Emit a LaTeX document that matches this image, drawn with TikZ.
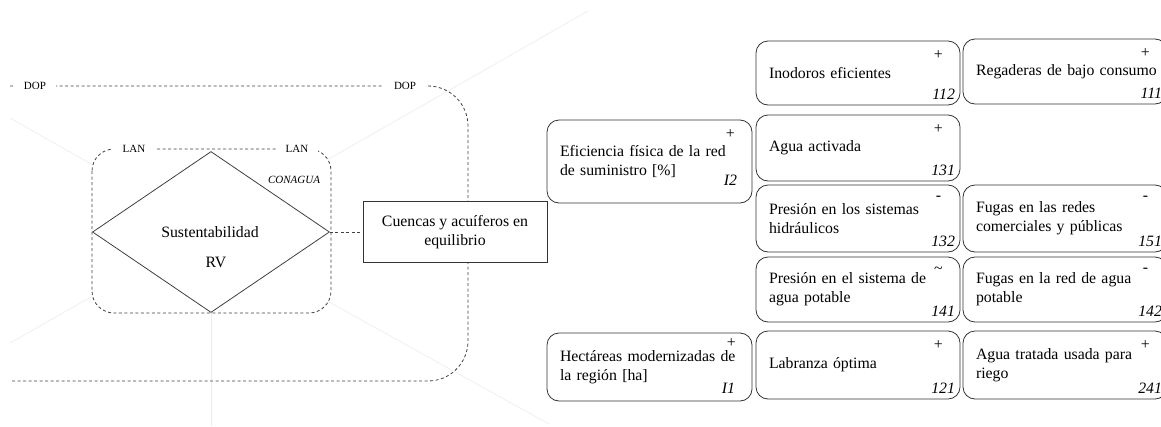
\documentclass[tikz,border=0pt]{standalone}
\usepackage{fontspec}
\setmainfont{Liberation Serif}
\usepackage{tikz}
\usetikzlibrary{shapes.geometric,positioning,calc}

\newcommand{\txtbig}{\fontsize{15.8}{19}\selectfont}
\newcommand{\txtsmall}{\fontsize{11}{13}\selectfont}
\newcommand{\boxmarks}[3]{%
  \node[sgn] (#1s) at ($(#1.north east)+(-22,14)$) {#2};
  \node[code] (#1c) at ($(#1.south east)+(-5,-11)$) {#3};}

\begin{document}
\begin{tikzpicture}[x=1pt, y=-1pt, line width=0.8pt,
   ind/.style={draw=black!80, fill=white, rounded corners=12pt, minimum width=204pt,
     text width=178pt, inner xsep=13pt, inner ysep=0pt, align=left, font=\txtbig},
   sgn/.style={font=\txtbig, inner sep=0pt},
   code/.style={font=\txtbig\itshape, inner sep=0pt, anchor=east},
   tag/.style={font=\txtsmall, fill=white, inner xsep=10pt, inner ysep=1pt},
   dashln/.style={draw=black!75, dash pattern=on 3pt off 2.5pt},
   ray/.style={draw=black!8, line width=0.6pt}]

  \useasboundingbox (0,0) rectangle (1161,426);
  \clip (0,0) rectangle (1161,426);

  % faint axes
  \draw[ray] (10,118) -- (93,165);
  \draw[ray] (327,160) -- (588,11);
  \draw[ray] (10,343) -- (91,297);
  \draw[ray] (329,302) -- (549,424);
  \draw[ray] (211,313) -- (211,426);

  % DOP frame
  \draw[dashln, rounded corners=40pt] (10,86) -- (468,86) -- (468,381) -- (10,381);
  \node[tag] (dop1) at (35,86) {DOP};
  \node[tag] (dop2) at (405,86) {DOP};

  % LAN frame
  \draw[dashln, fill=white, rounded corners=22pt] (92,149) rectangle (331,313);
  \node[tag] (lan1) at (134,149) {LAN};
  \node[tag] (lan2) at (297,149) {LAN};
  \node[font=\txtsmall\itshape] (cna) at (294,180) {CONAGUA};

  \node[draw=black!75, diamond, minimum width=237pt, minimum height=161pt, inner sep=0pt] (rv) at (211,232) {};
  \node[font=\txtbig] (sust) at (210,232) {Sustentabilidad};
  \node[font=\txtbig] (rvtxt) at (216,262) {RV};

  \node[draw=black!80, fill=white, minimum width=184pt, minimum height=61pt,
    align=center, font=\txtbig] (cue) at (455,232) {Cuencas y acuíferos en\\equilibrio};
  \draw[dashln] (rv.east) -- (cue.west);

  % indicators
  \node[ind, minimum width=205pt, text width=179pt, minimum height=83pt] (i2) at (649.5,161.5) {Eficiencia física de la red\\de suministro [\%]};
  \node[sgn] (i2s) at ($(i2.north east)+(-22,14)$) {+};
  \node[code] (i2c) at ($(i2.south east)+(-15,-23)$) {I2};
  \node[ind, minimum width=205pt, text width=179pt, minimum height=68pt] (i1) at (649.5,367) {\mbox{Hectáreas modernizadas de}\\la región [ha]};
  \node[sgn] (i1s) at ($(i1.north east)+(-21,10)$) {+};
  \node[code] (i1c) at ($(i1.south east)+(-17,-13)$) {I1};

  % middle column
  \node[ind, minimum height=64pt] (n112) at (858,73) {Inodoros eficientes};
  \boxmarks{n112}{+}{112}
  \node[ind, minimum height=66pt] (n131) at (858,148) {Agua activada};
  \boxmarks{n131}{+}{131}
  \node[ind, minimum height=67pt] (n132) at (858,218.5) {Presión en los sistemas\\hidráulicos};
  \boxmarks{n132}{-}{132}
  \node[ind, minimum height=65pt] (n141) at (858,289.5) {Presión en el sistema de\\agua potable};
  \boxmarks{n141}{\textasciitilde}{141}
  \node[ind, minimum height=68pt] (n121) at (858,365) {Labranza óptima};
  \boxmarks{n121}{+}{121}

  % right column
  \node[ind, minimum height=65pt] (n111) at (1065,71.5) {\mbox{Regaderas de bajo consumo}};
  \boxmarks{n111}{+}{111}
  \node[ind, minimum height=67pt] (n151) at (1065,218.5) {Fugas en las redes\\comerciales y públicas};
  \boxmarks{n151}{-}{151}
  \node[ind, minimum height=65pt] (n142) at (1065,289.5) {Fugas en la red de agua\\potable};
  \boxmarks{n142}{-}{142}
  \node[ind, minimum height=68pt] (n241) at (1065,365) {Agua tratada usada para\\riego};
  \boxmarks{n241}{+}{241}
\end{tikzpicture}
\end{document}
